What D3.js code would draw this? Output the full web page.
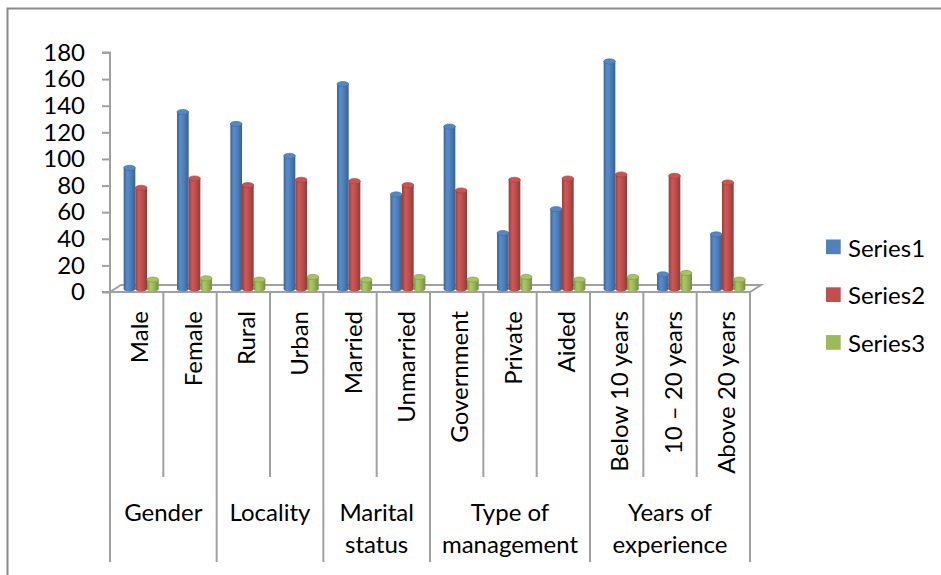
<!DOCTYPE html>
<html><head><meta charset="utf-8">
<script src="https://cdn.jsdelivr.net/npm/d3@7"></script>
<style>
html,body{margin:0;padding:0;background:#fff;}
svg{display:block;}
text{font-family:Lato,"Open Sans",sans-serif;fill:#000;}
</style></head>
<body>
<svg id="chart" width="941" height="575"></svg>
<script>
const categories = ["Male","Female","Rural","Urban","Married","Unmarried","Government","Private","Aided","Below 10 years","10 \u2013 20 years","Above 20 years"];
const seriesNames = ["Series1","Series2","Series3"];
const series1 = [93,135,126,102,156,73,124,44,62,173,13,43];
const series2 = [78,85,80,84,83,80,76,84,85,88,87,82];
const series3 = [9,10,9,11,9,11,9,11,9,11,14,9];
const groupLabels = [["Gender"],["Locality"],["Marital","status"],["Type of","management"],["Years of","experience"]];
const groupSizes = [2,2,2,3,3];
const yTicks = [0,20,40,60,80,100,120,140,160,180];
const colors = ["#4F81BD","#C0504D","#9BBB59"];

const seriesValues = [series1, series2, series3];
const svg = d3.select("#chart");
const FS = 24;

// frame
svg.append("path").attr("d","M7.5,575V8.5H941").attr("fill","none").attr("stroke","#8a8a8a").attr("stroke-width",2);

const x0 = d3.scaleBand().domain(categories).range([110,750]).padding(0);
const y = d3.scaleLinear().domain([0,180]).range([292,52.5]);
const bw = x0.bandwidth();
const groupW = 35;
const x1 = d3.scaleBand().domain(seriesNames).range([(bw-groupW)/2,(bw+groupW)/2]).padding(0);
const depth = {dx:11, dy:-7};
const barShift = {dx:4.5, dy:-3};
const axisColor = "#a0a0a0";

// gradients
const defs = svg.append("defs");
colors.forEach((c,i)=>{
  const g = defs.append("linearGradient").attr("id","cyl"+i).attr("x1","0%").attr("x2","100%").attr("y1","0%").attr("y2","0%");
  const base = d3.color(c);
  g.append("stop").attr("offset","0%").attr("stop-color",base.darker(0.7));
  g.append("stop").attr("offset","30%").attr("stop-color",base.brighter(0.25));
  g.append("stop").attr("offset","55%").attr("stop-color",base);
  g.append("stop").attr("offset","100%").attr("stop-color",base.darker(0.8));
});

// floor
const x0L = x0.range()[0], x0R = x0.range()[1], yb = y(0);
svg.append("path")
  .attr("d",`M${x0L},${yb}L${x0R},${yb}L${x0R+depth.dx},${yb+depth.dy}L${x0L+depth.dx},${yb+depth.dy}Z`)
  .attr("fill","none").attr("stroke",axisColor).attr("stroke-width",2);

// y axis
const yAxis = d3.axisLeft(y).tickValues(yTicks).tickSize(8).tickPadding(17);
const gy = svg.append("g").attr("transform",`translate(${x0L},0)`).call(yAxis);
gy.select(".domain").attr("stroke",axisColor).attr("stroke-width",2).attr("d",`M-8,${y(180)}H0V${yb}H-8`);
gy.selectAll(".tick line").attr("stroke",axisColor).attr("stroke-width",2);
gy.selectAll(".tick text").attr("font-size",FS).attr("font-family","Lato").attr("fill","#000");

// bars (cylinders)
const ry = 2.6;
categories.forEach((cat,ci)=>{
  seriesNames.forEach((s,si)=>{
    const v = seriesValues[si][ci];
    const bx = x0(cat) + x1(s) + barShift.dx;
    const w = x1.bandwidth();
    const top = y(v) + barShift.dy + ry;
    const bot = y(0) + barShift.dy;
    const g = svg.append("g");
    const base = d3.color(colors[si]);
    g.append("ellipse").attr("cx",bx+w/2).attr("cy",bot).attr("rx",w/2).attr("ry",ry).attr("fill",`url(#cyl${si})`);
    g.append("rect").attr("x",bx).attr("y",top).attr("width",w).attr("height",Math.max(0,bot-top)).attr("fill",`url(#cyl${si})`);
    g.append("ellipse").attr("cx",bx+w/2).attr("cy",top).attr("rx",w/2).attr("ry",ry)
      .attr("fill",base.brighter(0.15)).attr("stroke",base.darker(0.6)).attr("stroke-width",0.6);
  });
});

// category dividers
let idx = 0;
const groupStarts = [];
groupSizes.forEach(n=>{ groupStarts.push(idx); idx += n; });
for(let i=0;i<=categories.length;i++){
  const xPos = i<categories.length ? x0(categories[i]) : x0R;
  const major = groupStarts.includes(i) || i===categories.length;
  svg.append("line").attr("x1",xPos).attr("x2",xPos).attr("y1",yb).attr("y2",major?562:477)
    .attr("stroke",axisColor).attr("stroke-width",2);
}

// rotated category labels
categories.forEach(cat=>{
  const cx = x0(cat)+bw/2+2;
  svg.append("text").attr("transform",`translate(${cx},311) rotate(-90)`)
    .attr("text-anchor","end").attr("dominant-baseline","central").attr("font-size",FS).text(cat);
});

// group labels
groupSizes.forEach((n,gi)=>{
  const start = x0(categories[groupStarts[gi]]);
  const cx = start + n*bw/2;
  groupLabels[gi].forEach((line,li)=>{
    svg.append("text").attr("x",cx).attr("y",521+li*32).attr("text-anchor","middle").attr("font-size",FS).text(line);
  });
});

// legend
seriesNames.forEach((s,i)=>{
  const ly = 239.5 + i*47.8;
  svg.append("rect").attr("x",826).attr("y",ly).attr("width",14.7).attr("height",14.7).attr("fill",colors[i]);
  svg.append("text").attr("x",848).attr("y",ly+7.5).attr("dominant-baseline","central").attr("font-size",FS).text(s);
});
</script>
</body></html>
